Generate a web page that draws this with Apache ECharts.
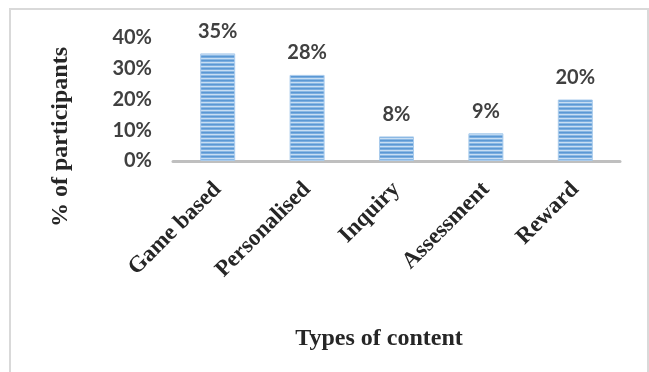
<!DOCTYPE html>
<html>
<head>
<meta charset="utf-8">
<script src="https://cdn.jsdelivr.net/npm/echarts@6/dist/echarts.min.js"></script>
<style>
html,body{margin:0;padding:0;background:#fff;}
#c{width:649px;height:372px;}
</style>
</head>
<body>
<div id="c"></div>
<script>
var categories = ['Game based', 'Personalised', 'Inquiry', 'Assessment', 'Reward'];
var values = [35, 28, 8, 9, 20];
var yTicks = [0, 10, 20, 30, 40];
var yAxisTitle = '% of participants';
var xAxisTitle = 'Types of content';

function stripePattern() {
  var cv = document.createElement('canvas');
  cv.width = 8; cv.height = 4;
  var ctx = cv.getContext('2d');
  ctx.fillStyle = '#5b98d4'; ctx.fillRect(0, 0, 8, 4);
  ctx.fillStyle = '#7aaddf'; ctx.fillRect(0, 1, 8, 1);
  ctx.fillStyle = '#c8def3'; ctx.fillRect(0, 2, 8, 1);
  ctx.fillStyle = '#8ab8e4'; ctx.fillRect(0, 3, 8, 1);
  return cv;
}

var chart = echarts.init(document.getElementById('c'));
chart.setOption({
  animation: false,
  backgroundColor: '#fff',
  grid: {left: 173, right: 29, top: 38, bottom: 211, containLabel: false},
  xAxis: {
    type: 'category',
    data: categories,
    axisLine: {lineStyle: {color: '#bfbfbf', width: 3}},
    axisTick: {show: false},
    axisLabel: {
      rotate: 45, interval: 0, margin: 25,
      fontSize: 23, fontFamily: '"Liberation Serif","Times New Roman",serif', fontWeight: 'bold', color: '#262626'
    }
  },
  yAxis: {
    type: 'value',
    min: yTicks[0], max: yTicks[yTicks.length - 1], interval: 10,
    axisLine: {show: false},
    axisTick: {show: false},
    splitLine: {show: false},
    axisLabel: {
      formatter: '{value}%', margin: 21,
      fontSize: 20, fontFamily: 'Lato', fontWeight: 'bold', color: '#404040'
    }
  },
  series: [{
    type: 'bar',
    data: values,
    barWidth: 35,
    itemStyle: {
      color: {image: stripePattern(), repeat: 'repeat'},
      borderColor: '#a9cbec', borderWidth: 1
    },
    label: {
      show: true, position: 'top', distance: 12,
      formatter: '{c}%',
      fontSize: 20, fontFamily: 'Lato', fontWeight: 'bold', color: '#404040'
    }
  }],
  graphic: [
    {type: 'rect', shape: {x: 10, y: 9, width: 638, height: 420},
     style: {fill: 'none', stroke: '#d9d9d9', lineWidth: 2}, silent: true},
    {type: 'text', x: 61, y: 137, rotation: Math.PI / 2,
     style: {text: yAxisTitle, font: 'bold 24px "Liberation Serif", serif', fill: '#262626',
             align: 'center', verticalAlign: 'middle'}},
    {type: 'text', x: 379, y: 339,
     style: {text: xAxisTitle, font: 'bold 24px "Liberation Serif", serif', fill: '#262626',
             align: 'center', verticalAlign: 'middle'}}
  ]
});
</script>
</body>
</html>
